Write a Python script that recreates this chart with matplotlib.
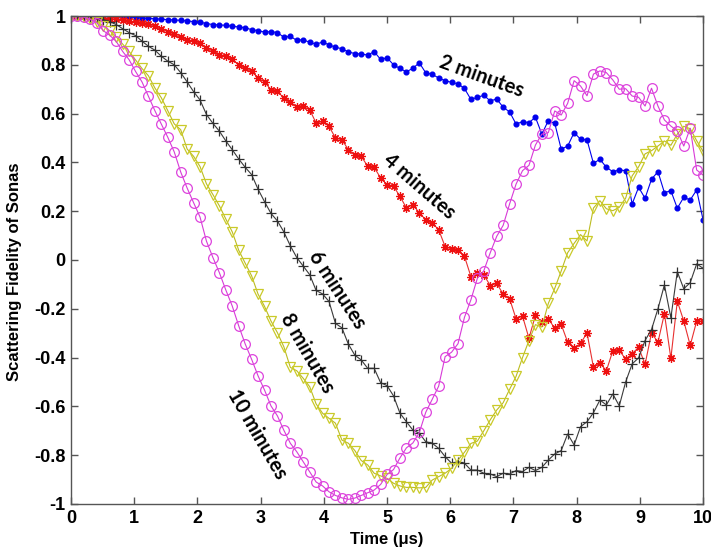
import numpy as np
import matplotlib
matplotlib.use("Agg")
import matplotlib.pyplot as plt

# time axis: 99 samples between 0 and 10 us
time_us = np.linspace(0, 10, 99)

fid_2min = [
    1.0, 1.0, 1.0, 0.999, 0.999, 0.998, 0.998, 0.997, 0.996, 0.995,
    0.994, 0.992, 0.99, 0.989, 0.987, 0.985, 0.984, 0.982, 0.98, 0.977,
    0.975, 0.969, 0.965, 0.963, 0.962, 0.958, 0.955, 0.952, 0.944, 0.94,
    0.934, 0.936, 0.932, 0.913, 0.917, 0.90, 0.903, 0.892, 0.885, 0.893,
    0.882, 0.872, 0.866, 0.853, 0.846, 0.844, 0.84, 0.854, 0.822, 0.829,
    0.80, 0.785, 0.771, 0.786, 0.808, 0.767, 0.761, 0.746, 0.735, 0.728,
    0.722, 0.703, 0.658, 0.667, 0.675, 0.652, 0.66, 0.626, 0.607, 0.557,
    0.567, 0.563, 0.585, 0.516, 0.571, 0.56, 0.454, 0.467, 0.522, 0.495,
    0.492, 0.396, 0.413, 0.38, 0.362, 0.369, 0.366, 0.23, 0.298, 0.253,
    0.331, 0.362, 0.276, 0.284, 0.212, 0.257, 0.246, 0.287, 0.164,
]

fid_4min = [
    1.0, 0.999, 0.998, 0.996, 0.995, 0.992, 0.989, 0.986, 0.983, 0.979,
    0.975, 0.971, 0.966, 0.957, 0.946, 0.936, 0.925, 0.912, 0.903, 0.896,
    0.889, 0.869, 0.855, 0.842, 0.835, 0.822, 0.80, 0.787, 0.773, 0.746,
    0.73, 0.698, 0.691, 0.664, 0.648, 0.626, 0.63, 0.616, 0.561, 0.568,
    0.548, 0.50, 0.493, 0.452, 0.432, 0.425, 0.384, 0.38, 0.336, 0.309,
    0.302, 0.261, 0.213, 0.227, 0.193, 0.165, 0.152, 0.124, 0.055, 0.045,
    0.041, 0.015, -0.068, -0.055, -0.061, -0.105, -0.096, -0.14, -0.159, -0.241,
    -0.23, -0.321, -0.227, -0.255, -0.241, -0.28, -0.264, -0.337, -0.362, -0.342,
    -0.299, -0.44, -0.422, -0.454, -0.372, -0.37, -0.407, -0.384, -0.358, -0.428,
    -0.299, -0.337, -0.22, -0.403, -0.169, -0.25, -0.35, -0.251, -0.251,
]

fid_6min = [
    1.0, 0.999, 0.998, 0.995, 0.99, 0.985, 0.977, 0.965, 0.948, 0.932,
    0.92, 0.897, 0.876, 0.86, 0.835, 0.815, 0.80, 0.768, 0.73, 0.69,
    0.656, 0.596, 0.56, 0.528, 0.488, 0.452, 0.414, 0.38, 0.35, 0.29,
    0.239, 0.191, 0.16, 0.115, 0.058, 0.01, -0.025, -0.06, -0.125, -0.139,
    -0.17, -0.26, -0.278, -0.345, -0.39, -0.41, -0.444, -0.444, -0.503, -0.515,
    -0.557, -0.628, -0.663, -0.697, -0.71, -0.745, -0.751, -0.772, -0.806, -0.833,
    -0.827, -0.833, -0.861, -0.861, -0.874, -0.877, -0.888, -0.874, -0.877, -0.863,
    -0.867, -0.85, -0.863, -0.85, -0.82, -0.795, -0.781, -0.713, -0.758, -0.683,
    -0.663, -0.626, -0.574, -0.594, -0.549, -0.598, -0.499, -0.426, -0.401, -0.33,
    -0.285, -0.2, -0.102, -0.237, -0.048, -0.118, -0.093, -0.016, -0.034,
]

fid_8min = [
    1.0, 0.999, 0.995, 0.988, 0.976, 0.96, 0.94, 0.915, 0.885, 0.855,
    0.82, 0.785, 0.755, 0.705, 0.665, 0.612, 0.558, 0.534, 0.455, 0.425,
    0.383, 0.312, 0.268, 0.222, 0.168, 0.115, 0.04, -0.013, -0.065, -0.14,
    -0.19, -0.25, -0.298, -0.356, -0.44, -0.454, -0.485, -0.519, -0.59, -0.628,
    -0.649, -0.669, -0.738, -0.751, -0.781, -0.822, -0.84, -0.874, -0.885, -0.895,
    -0.915, -0.926, -0.932, -0.932, -0.934, -0.932, -0.902, -0.888, -0.874, -0.854,
    -0.82, -0.788, -0.752, -0.742, -0.70, -0.655, -0.615, -0.585, -0.53,
    -0.477, -0.40, -0.33, -0.265, -0.275, -0.178, -0.116, -0.045, 0.03, 0.068,
    0.104, 0.078, 0.213, 0.243, 0.21, 0.202, 0.216, 0.254, 0.345, 0.382,
    0.435, 0.448, 0.467, 0.488, 0.47, 0.516, 0.548, 0.538, 0.489, 0.445,
]

fid_10min = [
    1.0, 0.999, 0.995, 0.986, 0.972, 0.94, 0.921, 0.896, 0.855, 0.821,
    0.773, 0.73, 0.671, 0.612, 0.557, 0.503, 0.443, 0.361, 0.295, 0.235,
    0.176, 0.077, 0.01, -0.052, -0.123, -0.189, -0.27, -0.344, -0.407, -0.475,
    -0.533, -0.598, -0.639, -0.698, -0.751, -0.786, -0.827, -0.868, -0.91, -0.926,
    -0.95, -0.965, -0.975, -0.981, -0.976, -0.965, -0.954, -0.943, -0.92, -0.879,
    -0.859, -0.811, -0.77, -0.75, -0.707, -0.624, -0.571, -0.517, -0.396, -0.378,
    -0.343, -0.235, -0.163, -0.075, -0.044, 0.03, 0.097, 0.142, 0.23, 0.311,
    0.366, 0.388, 0.471, 0.516, 0.522, 0.611, 0.594, 0.642, 0.735, 0.713,
    0.673, 0.762, 0.775, 0.768, 0.738, 0.70, 0.702, 0.672, 0.667, 0.631,
    0.704, 0.631, 0.574, 0.549, 0.529, 0.467, 0.54, 0.369, 0.348,
]

# curve labels: text, anchor (time, fidelity), rotation
label_text = ["2 minutes", "4 minutes", "6 minutes", "8 minutes", "10 minutes"]
label_x = [6.5, 5.51, 4.21, 3.74, 2.94]
label_y = [0.754, 0.302, -0.123, -0.383, -0.713]
label_rot = [-20, -41, -57, -60, -60]

x_ticks = list(range(0, 11))
y_ticks = [-1, -0.8, -0.6, -0.4, -0.2, 0, 0.2, 0.4, 0.6, 0.8, 1]
y_ticklabels = ["-1", "-0.8", "-0.6", "-0.4", "-0.2", "0", "0.2", "0.4", "0.6", "0.8", "1"]

plt.rcParams["font.family"] = ["Liberation Sans", "DejaVu Sans"]

fig = plt.figure(figsize=(7.11, 5.52), dpi=100)
ax = fig.add_axes([0.0999, 0.087, 0.889, 0.884])

ax.plot(time_us, fid_2min, color="#0000ee", lw=0.8, marker="o", ms=3.4,
        mfc="#0000ee", mec="#0000ee")
ax.plot(time_us, fid_4min, color="#e83030", lw=0.8, marker=(8, 2, 0), ms=6,
        mec="#ee1010", mew=0.9)
ax.plot(time_us, fid_6min, color="#3a3a3a", lw=0.8, marker="+", ms=7,
        mec="#303030", mew=0.9)
ax.plot(time_us, fid_8min, color="#bcbc20", lw=0.8, marker="v", ms=7,
        mfc="none", mec="#caca2a", mew=0.9)
ax.plot(time_us, fid_10min, color="#d83ad8", lw=0.8, marker="o", ms=7,
        mfc="none", mec="#dd44dd", mew=0.9)

for txt, lx, ly, rot in zip(label_text, label_x, label_y, label_rot):
    ax.text(lx, ly, txt, rotation=rot, rotation_mode="anchor",
            ha="center", va="center", fontsize=14.5, fontweight="bold",
            family=["Lato", "DejaVu Sans"], color="black")

ax.set_xlim(0, 10)
ax.set_ylim(-1, 1)
ax.set_xticks(x_ticks)
ax.set_yticks(y_ticks)
ax.set_yticklabels(y_ticklabels)
ax.tick_params(direction="in", length=5, width=1, top=True, right=True,
               labelsize=13, color="#555555", pad=4)
for lab in ax.get_xticklabels() + ax.get_yticklabels():
    lab.set_fontweight("bold")
for sp in ax.spines.values():
    sp.set_color("#555555")
    sp.set_linewidth(1.0)

ax.set_xlabel("Time (\u03bcs)", fontsize=12, fontweight="bold")
ax.set_ylabel("Scattering Fidelity of Sonas", fontsize=12, fontweight="bold")
ax.xaxis.set_label_coords(0.5, -0.058)
ax.yaxis.set_label_coords(-0.078, 0.475)

fig.savefig("out.png", dpi=100)
